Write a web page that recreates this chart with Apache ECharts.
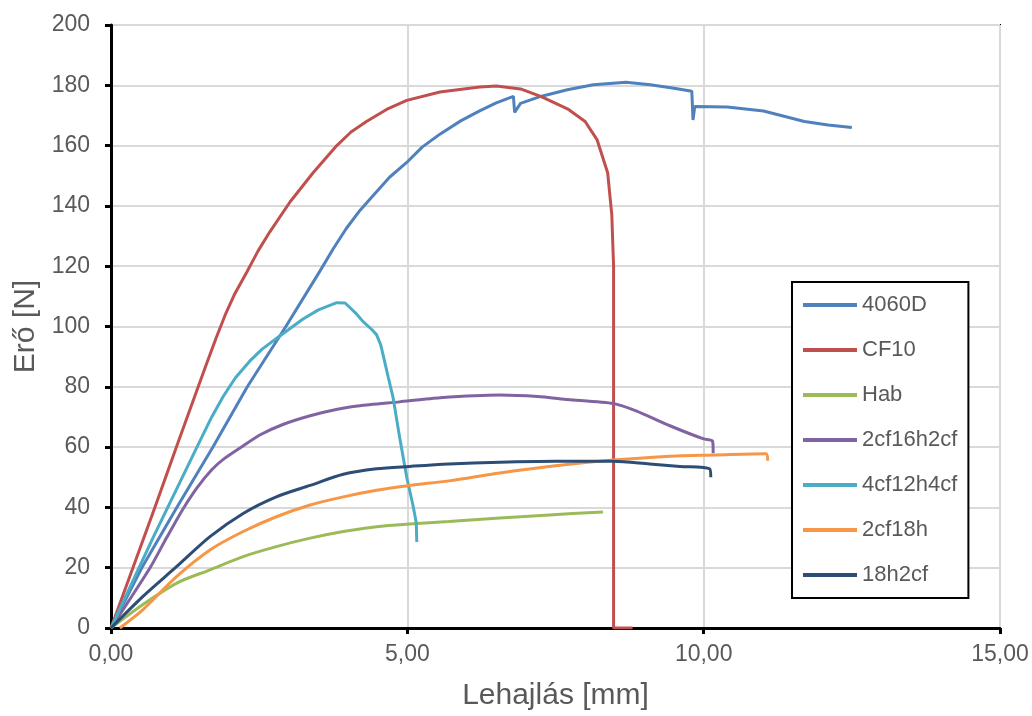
<!DOCTYPE html>
<html>
<head>
<meta charset="utf-8">
<script src="https://cdn.jsdelivr.net/npm/echarts@6/dist/echarts.min.js"></script>
<style>
  html, body { margin: 0; padding: 0; background: #fff; }
  #chart { width: 1032px; height: 716px; }
</style>
</head>
<body>
<div id="chart"></div>
<script>
// [deflection mm, force N]
const s4060D = [[0,0],[0.52,20],[1.11,40],[1.72,60],[2.3,80],[2.95,100],[3.52,118.2],[3.75,125.8],[3.97,132.5],[4.2,138.5],[4.42,143.4],[4.7,149.5],[4.99,154.4],[5.25,159.5],[5.55,163.8],[5.9,168.2],[6.22,171.5],[6.5,174.2],[6.79,176.3],[6.81,171],[6.91,174],[7.25,176.3],[7.7,178.5],[8.14,180.2],[8.69,181],[9.1,180.2],[9.5,179],[9.8,178],[9.82,168.5],[9.85,173],[10.4,172.8],[11.01,171.5],[11.7,168],[12.1,166.8],[12.5,166]];
const sCF10 = [[0,0],[0.74,40],[1.14,62],[1.6,87],[1.78,96.5],[1.93,104],[2.08,110.5],[2.29,118],[2.48,125],[2.68,131.4],[3.02,141.3],[3.41,151],[3.81,160],[4.05,164.5],[4.31,168],[4.65,172],[4.99,175],[5.55,177.8],[6.22,179.4],[6.5,179.8],[6.91,178.8],[7.25,176.3],[7.72,172],[8.0,168],[8.2,162],[8.38,151],[8.45,137],[8.48,120],[8.48,0],[8.8,0]];
const sHab = [[0,0],[0.54,7.8],[1.11,14.9],[1.67,19.3],[2.23,23.7],[2.79,27],[3.36,29.8],[3.92,32],[4.48,33.6],[5.04,34.5],[5.7,35.3],[6.56,36.5],[7.4,37.5],[8.3,38.5]];
const s2cf16h2cf = [[0,0],[0.66,20],[0.94,30],[1.2,39],[1.45,46.5],[1.7,52.5],[1.9,56],[2.2,60],[2.51,64],[2.9,67.5],[3.36,70.4],[3.8,72.5],[4.2,73.7],[4.87,75],[5.55,76.4],[6.56,77.3],[7.2,76.8],[7.71,75.8],[8.47,74.5],[8.86,72],[9.44,67],[10.0,62.7],[10.15,62],[10.16,58]];
const s4cf12h4cf = [[0,0],[0.45,19],[0.71,30],[1.45,60],[1.7,70],[1.9,77],[2.1,83],[2.34,88.5],[2.55,92.5],[2.79,96],[3.24,102.5],[3.5,105.5],[3.81,107.9],[3.95,107.8],[4.03,106.3],[4.15,104],[4.25,101.7],[4.4,99],[4.48,97.3],[4.55,94],[4.59,90.7],[4.68,83],[4.76,76.4],[4.87,63.3],[4.99,50],[5.1,40.2],[5.15,35],[5.16,28.5]];
const s2cf18h = [[0.15,0],[0.54,6.1],[1.11,17.1],[1.67,25.9],[2.23,32],[2.79,36.9],[3.36,40.8],[3.92,43.5],[4.48,45.7],[5.04,47.3],[5.7,48.8],[6.56,51.4],[7.5,53.8],[8.47,55.7],[9.44,57],[10.2,57.4],[11.05,57.8],[11.08,55.5]];
const s18h2cf = [[0,0],[0.54,10.5],[1.11,20.4],[1.67,30.3],[2.23,38],[2.79,43.5],[3.36,47.3],[3.92,51],[4.48,52.8],[5.04,53.6],[5.7,54.4],[6.56,55],[7.5,55.3],[8.47,55.3],[9.09,54.4],[9.6,53.6],[10.1,52.8],[10.12,50]];

const seriesNames = ["4060D", "CF10", "Hab", "2cf16h2cf", "4cf12h4cf", "2cf18h", "18h2cf"];
const seriesData = [s4060D, sCF10, sHab, s2cf16h2cf, s4cf12h4cf, s2cf18h, s18h2cf];
const colors = ["#4F81BD", "#C0504D", "#9BBB59", "#8064A2", "#4BACC6", "#F79646", "#2C4D75"];
// curves without big sharp drops get a little smoothing
const smoothing = [0, 0, 0.3, 0.2, 0, 0.3, 0.3];

const font = "Liberation Sans";
const textGray = "#595959";

const chart = echarts.init(document.getElementById("chart"));

const option = {
  animation: false,
  color: colors,
  grid: {
    left: 111,
    right: 32,
    top: 25,
    bottom: 84,
    show: true,
    borderColor: "#000",
    borderWidth: 2
  },
  legend: {
    left: 792,
    top: 282,
    orient: "vertical",
    padding: [12, 11, 12, 11],
    borderColor: "#000",
    borderWidth: 2,
    backgroundColor: "#fff",
    itemGap: 23,
    itemWidth: 54,
    itemHeight: 4,
    icon: "rect",
    textStyle: {
      fontFamily: font,
      fontSize: 22,
      color: textGray
    },
    data: seriesNames
  },
  xAxis: {
    type: "value",
    min: 0,
    max: 15,
    interval: 5,
    name: "Lehajlás [mm]",
    nameLocation: "middle",
    nameGap: 53,
    nameTextStyle: { fontFamily: font, fontSize: 30, color: textGray },
    axisLine: { onZero: false, lineStyle: { color: "#000", width: 3 } },
    axisTick: { show: true, length: 6, lineStyle: { color: "#000", width: 3 } },
    axisLabel: {
      margin: 15,
      fontFamily: font,
      fontSize: 23,
      color: textGray,
      formatter: v => v.toFixed(2).replace(".", ",")
    },
    splitLine: { show: true, lineStyle: { color: "#d9d9d9", width: 2 } }
  },
  yAxis: {
    type: "value",
    min: 0,
    max: 200,
    interval: 20,
    name: "Erő [N]",
    nameLocation: "middle",
    nameGap: 70,
    nameTextStyle: { fontFamily: font, fontSize: 30, color: textGray },
    axisLine: { show: true, lineStyle: { color: "#000", width: 3 } },
    axisTick: { show: true, length: 6, lineStyle: { color: "#000", width: 3 } },
    axisLabel: {
      margin: 21,
      fontFamily: font,
      fontSize: 23,
      color: textGray
    },
    splitLine: { show: true, lineStyle: { color: "#d9d9d9", width: 2 } }
  },
  series: seriesNames.map((name, i) => ({
    name: name,
    type: "line",
    data: seriesData[i],
    showSymbol: false,
    symbol: "none",
    smooth: smoothing[i],
    lineStyle: { width: 3, color: colors[i] },
    itemStyle: { color: colors[i] }
  }))
};

chart.setOption(option);
</script>
</body>
</html>
